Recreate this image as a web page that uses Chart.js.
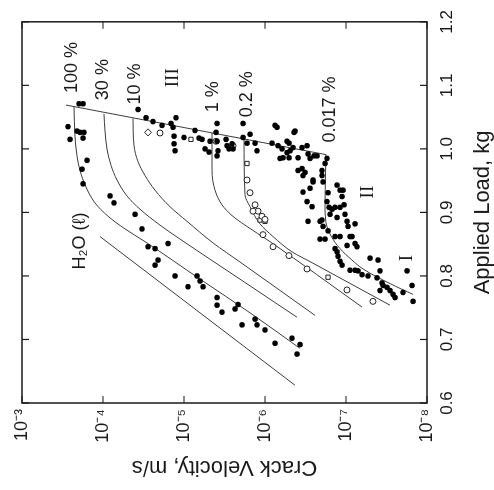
<!DOCTYPE html>
<html>
<head>
<meta charset="utf-8">
<script src="https://cdn.jsdelivr.net/npm/chart.js@4.4.1/dist/chart.umd.min.js"></script>
<style>
  html, body { margin: 0; padding: 0; background: #fff; overflow: hidden; }
  #wrap { position: relative; width: 494px; height: 490px; overflow: hidden; }
  /* the figure is printed turned a quarter turn to the left */
  #canvas { position: absolute; left: 0; top: 0; transform-origin: 0 0; transform: translate(0, 490px) rotate(-90deg); }
</style>
</head>
<body>
<div id="wrap"><canvas id="canvas" width="490" height="494"></canvas></div>
<script>
'use strict';

// axes
var loadTicks = [0.6, 0.7, 0.8, 0.9, 1.0, 1.1, 1.2];
var loadTickLabels = ['0.6', '0.7', '0.8', '0.9', '1.0', '1.1', '1.2'];
var velTickExp = [-8, -7, -6, -5, -4, -3];
var velTickLabels = ['10\u207B\u2078', '10\u207B\u2077', '10\u207B\u2076', '10\u207B\u2075', '10\u207B\u2074', '10\u207B\u00B3'];

// model curves: applied load (kg) and log10 crack velocity (m/s)
var region3Load = [1.069, 0.991];
var region3LogV = [-3.543, -6.753];
var h2oLoad = [0.862, 0.628];
var h2oLogV = [-3.963, -6.370];
var rh100Load = [1.066, 1.020, 0.989, 0.966, 0.940, 0.915, 0.894, 0.874, 0.854, 0.795, 0.742, 0.686];
var rh100LogV = [-3.642, -3.654, -3.679, -3.716, -3.790, -3.901, -4.062, -4.272, -4.519, -5.198, -5.815, -6.432];
var rh30Load = [1.055, 1.028, 1.000, 0.974, 0.951, 0.926, 0.905, 0.880, 0.858, 0.795, 0.735];
var rh30LogV = [-4.012, -4.025, -4.049, -4.099, -4.173, -4.296, -4.457, -4.704, -4.951, -5.691, -6.395];
var rh10Load = [1.048, 1.005, 0.980, 0.958, 0.935, 0.909, 0.886, 0.852, 0.822, 0.738];
var rh10LogV = [-4.370, -4.383, -4.432, -4.519, -4.642, -4.827, -5.037, -5.358, -5.691, -6.617];
var rh1Load = [1.025, 0.966, 0.935, 0.912, 0.895, 0.880, 0.854, 0.751];
var rh1LogV = [-5.346, -5.346, -5.383, -5.469, -5.593, -5.753, -6.062, -7.198];
var rh02Load = [1.017, 0.928, 0.909, 0.882, 0.862, 0.838, 0.820, 0.754];
var rh02LogV = [-5.741, -5.753, -5.815, -5.938, -6.099, -6.333, -6.593, -7.543];
var rh0017Load = [0.991, 0.950, 0.912, 0.886, 0.863, 0.843, 0.825, 0.811, 0.788, 0.771];
var rh0017LogV = [-6.753, -6.745, -6.741, -6.750, -6.815, -6.926, -7.074, -7.210, -7.543, -7.827];

// measured points, filled symbols
var filledLoad = [
  1.071, 1.071, 1.035, 1.015, 1.028, 1.026, 1.026, 1.017, 0.982, 0.968, 0.945, 0.926, 0.915,
  0.897, 0.874, 0.846, 0.843, 0.851, 0.825, 0.817, 0.800, 0.800, 0.783, 0.792, 0.783, 0.766,
  0.754, 0.743, 0.748, 0.755, 0.723, 0.732, 0.723, 0.715, 0.694, 0.702, 0.692, 0.677,
  1.062, 1.049, 1.043, 1.037, 1.040, 1.049, 1.034, 1.020, 1.018, 1.029, 1.017, 1.015, 1.008,
  0.997, 1.000, 0.995, 1.040, 1.026, 1.012, 0.997, 0.989, 1.012, 1.015, 1.005, 1.000, 1.008,
  1.000, 1.040, 1.018, 1.009, 1.023, 1.009, 0.997, 1.037, 1.034, 1.009, 1.005, 1.000, 0.986,
  0.985, 0.986, 0.994, 1.012, 1.009, 1.026, 1.002, 0.986, 1.002, 1.005, 0.992, 0.985, 0.989,
  0.989, 0.966, 0.969, 0.963, 0.958, 0.951, 0.966, 0.958, 0.977, 0.985, 1.028, 0.997,
  0.938, 0.917, 0.909, 0.886, 0.888, 0.878, 0.931, 0.917, 0.908, 0.897, 0.871, 0.862, 0.943,
  0.935, 0.935, 0.925, 0.912, 0.897, 0.886, 0.878, 0.882, 0.908, 0.908, 0.892, 0.862, 0.862,
  0.851, 0.843, 0.848, 0.886, 0.858, 0.858, 0.948, 0.932, 0.948, 0.905, 0.831, 0.823, 0.817,
  0.809, 0.809, 0.808, 0.802, 0.828, 0.825, 0.808, 0.800, 0.797, 0.789, 0.785, 0.782, 0.777,
  0.777, 0.771, 0.766, 0.774, 0.808, 0.785, 0.760, 0.838, 0.846, 0.862
];
var filledLogV = [
  -3.704, -3.753, -3.568, -3.593, -3.679, -3.716, -3.765, -3.753, -3.802, -3.741, -3.753, -4.086, -4.136,
  -4.395, -4.481, -4.556, -4.642, -4.802, -4.679, -4.642, -4.889, -5.160, -5.049, -5.198, -5.235, -5.407,
  -5.407, -5.469, -5.630, -5.667, -5.716, -5.877, -5.901, -6.000, -6.123, -6.333, -6.432, -6.395,
  -4.432, -4.531, -4.617, -4.728, -4.840, -4.901, -4.864, -4.877, -5.000, -5.136, -5.185, -5.222, -4.877,
  -4.889, -5.259, -5.309, -5.407, -5.395, -5.407, -5.420, -5.407, -5.321, -5.519, -5.531, -5.556, -5.593,
  -5.605, -5.728, -5.728, -5.778, -5.815, -5.877, -5.901, -6.123, -6.148, -6.086, -6.160, -6.210, -6.222,
  -6.185, -6.296, -6.272, -6.272, -6.296, -6.358, -6.346, -6.407, -6.457, -6.519, -6.531, -6.556, -6.605,
  -6.642, -6.407, -6.457, -6.494, -6.469, -6.593, -6.704, -6.704, -6.741, -6.765, -6.370, -6.309,
  -6.556, -6.519, -6.580, -6.531, -6.704, -6.716, -6.778, -6.765, -6.790, -6.802, -6.778, -6.864, -6.889,
  -6.926, -6.963, -6.951, -6.975, -6.988, -7.012, -7.025, -7.111, -6.926, -6.864, -6.889, -6.926, -7.049,
  -7.111, -6.864, -7.012, -6.679, -6.679, -6.741, -6.593, -6.469, -6.716, -6.827, -6.901, -6.926, -6.951,
  -7.049, -7.111, -7.148, -7.198, -7.296, -7.395, -7.420, -7.272, -7.383, -7.444, -7.457, -7.506, -7.543,
  -7.420, -7.580, -7.605, -7.704, -7.753, -7.815, -7.827, -6.889, -7.136, -7.074
];

// measured points, open symbols
var openCircleLoad = [1.025, 1.012, 1.005, 0.951, 0.931, 0.912, 0.902, 0.894, 0.889, 0.902, 0.865, 0.846, 0.832, 0.811, 0.778, 0.760];
var openCircleLogV = [-4.704, -5.395, -5.605, -5.778, -5.815, -5.877, -5.914, -5.963, -6.000, -5.852, -5.975, -6.099, -6.296, -6.519, -7.012, -7.333];
var openSquareLoad = [1.015, 0.977, 0.888, 0.886, 0.798];
var openSquareLogV = [-5.086, -5.778, -5.938, -6.000, -6.778];
var openDiamondLoad = [1.026];
var openDiamondLogV = [-4.556];

// curve labels
var notes = [
  { text: '100 %', load: 1.128, logV: -3.617, serif: false },
  { text: '30 %', load: 1.109, logV: -4.000, serif: false },
  { text: '10 %', load: 1.102, logV: -4.395, serif: false },
  { text: 'III', load: 1.112, logV: -4.864, serif: true },
  { text: '1 %', load: 1.082, logV: -5.358, serif: false },
  { text: '0.2 %', load: 1.086, logV: -5.778, serif: false },
  { text: '0.017 %', load: 1.062, logV: -6.802, serif: false },
  { text: 'II', load: 0.932, logV: -7.272, serif: true },
  { text: 'I', load: 0.828, logV: -7.753, serif: true },
  { text: 'H\u2082O (\u2113)', load: 0.855, logV: -3.716, serif: false }
];

var FONT = '"Liberation Sans", Arial, Helvetica, sans-serif';
var SERIF = '"Liberation Serif", "Times New Roman", serif';
var INK = '#1a1a1a';

function pts(loads, logs) {
  return loads.map(function(l, i) { return { x: l, y: Math.pow(10, logs[i]) }; });
}

function curve(loads, logs) {
  return {
    data: pts(loads, logs),
    showLine: true,
    pointRadius: 0,
    borderColor: '#3c3c3c',
    borderWidth: 1,
    cubicInterpolationMode: 'monotone',
    order: 2
  };
}

var decor = {
  id: 'decor',
  afterDatasetsDraw: function(chart) {
    var ctx = chart.ctx, a = chart.chartArea, sx = chart.scales.x, sy = chart.scales.y;
    var t = 7;
    ctx.save();
    ctx.strokeStyle = INK;
    ctx.lineWidth = 1.5;
    ctx.strokeRect(a.left, a.top, a.right - a.left, a.bottom - a.top);
    ctx.lineWidth = 1.2;
    ctx.beginPath();
    loadTicks.forEach(function(v) {
      var px = sx.getPixelForValue(v);
      ctx.moveTo(px, a.bottom); ctx.lineTo(px, a.bottom - t);
      ctx.moveTo(px, a.top); ctx.lineTo(px, a.top + t);
    });
    velTickExp.forEach(function(e) {
      var py = sy.getPixelForValue(Math.pow(10, e));
      ctx.moveTo(a.left, py); ctx.lineTo(a.left + t, py);
      ctx.moveTo(a.right, py); ctx.lineTo(a.right - t, py);
    });
    ctx.stroke();

    ctx.fillStyle = INK;
    ctx.textAlign = 'center';
    ctx.textBaseline = 'middle';
    notes.forEach(function(n) {
      ctx.font = n.serif ? '19px ' + SERIF : '18px ' + FONT;
      ctx.fillText(n.text, sx.getPixelForValue(n.load), sy.getPixelForValue(Math.pow(10, n.logV)));
    });
    ctx.restore();
  }
};

var ctx = document.getElementById('canvas').getContext('2d');
window.myChart = new Chart(ctx, {
  type: 'scatter',
  data: {
    datasets: [
      {
        data: pts(filledLoad, filledLogV),
        pointRadius: 2.8,
        pointBackgroundColor: '#000',
        pointBorderWidth: 0,
        order: 0
      },
      {
        data: pts(openCircleLoad, openCircleLogV),
        pointRadius: 3,
        pointBackgroundColor: '#fff',
        pointBorderColor: '#222',
        pointBorderWidth: 1,
        order: 1
      },
      {
        data: pts(openSquareLoad, openSquareLogV),
        pointStyle: 'rect',
        pointRadius: 3,
        pointBackgroundColor: '#fff',
        pointBorderColor: '#222',
        pointBorderWidth: 1,
        order: 1
      },
      {
        data: pts(openDiamondLoad, openDiamondLogV),
        pointStyle: 'rectRot',
        pointRadius: 3.5,
        pointBackgroundColor: '#fff',
        pointBorderColor: '#222',
        pointBorderWidth: 1,
        order: 1
      },
      curve(region3Load, region3LogV),
      curve(h2oLoad, h2oLogV),
      curve(rh100Load, rh100LogV),
      curve(rh30Load, rh30LogV),
      curve(rh10Load, rh10LogV),
      curve(rh1Load, rh1LogV),
      curve(rh02Load, rh02LogV),
      curve(rh0017Load, rh0017LogV)
    ]
  },
  options: {
    responsive: false,
    animation: false,
    events: [],
    layout: { padding: { top: 22, right: 13, bottom: 0, left: 0 } },
    plugins: {
      legend: { display: false },
      tooltip: { enabled: false }
    },
    scales: {
      x: {
        type: 'linear',
        position: 'bottom',
        min: 0.6,
        max: 1.2,
        afterBuildTicks: function(s) { s.ticks = loadTicks.map(function(v) { return { value: v }; }); },
        afterFit: function(s) { s.height = 67; },
        grid: { display: false, drawTicks: false },
        border: { display: false },
        ticks: {
          padding: 10,
          color: INK,
          maxRotation: 0,
          autoSkip: false,
          font: { family: FONT, size: 17 },
          callback: function(v, i) { return loadTickLabels[i]; }
        },
        title: {
          display: true,
          text: 'Applied Load, kg',
          color: INK,
          padding: 0,
          font: { family: FONT, size: 22, lineHeight: 1 }
        }
      },
      y: {
        type: 'logarithmic',
        position: 'left',
        min: 1e-8,
        max: 1e-3,
        afterBuildTicks: function(s) { s.ticks = velTickExp.map(function(e) { return { value: Math.pow(10, e) }; }); },
        afterFit: function(s) { s.width = 87; },
        grid: { display: false, drawTicks: false },
        border: { display: false },
        ticks: {
          padding: 6,
          color: INK,
          autoSkip: false,
          font: { family: FONT, size: 18 },
          callback: function(v, i) { return velTickLabels[i]; }
        },
        title: {
          display: true,
          text: 'Crack Velocity, m/s',
          color: INK,
          padding: { top: 12, bottom: 0 },
          font: { family: FONT, size: 22, lineHeight: 1 }
        }
      }
    }
  },
  plugins: [decor]
});
</script>
</body>
</html>
